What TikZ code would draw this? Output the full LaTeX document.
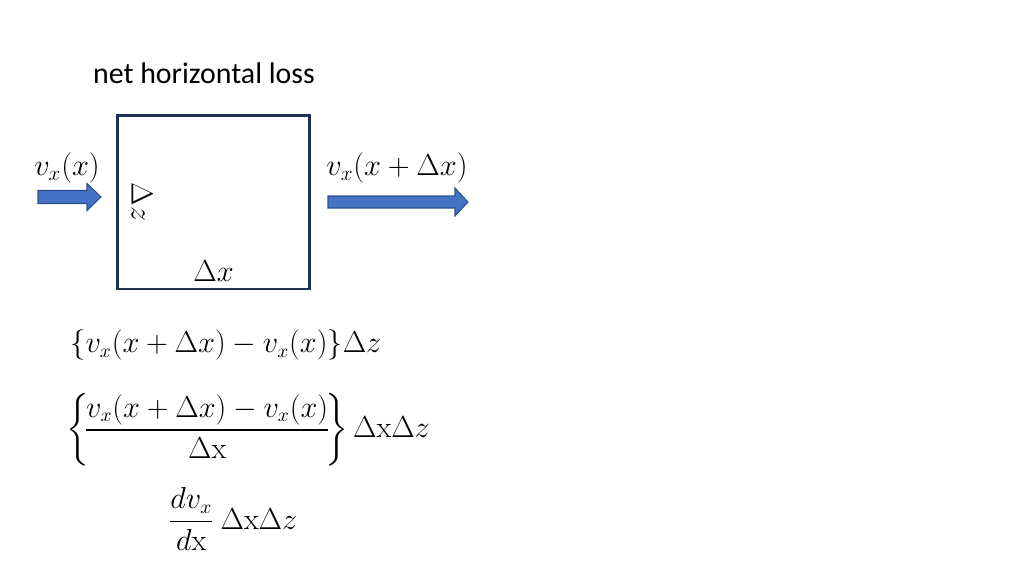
\documentclass[tikz,border=0pt]{standalone}
\usepackage{amsmath}
\usepackage[no-math]{fontspec}
\setmainfont{Carlito}
\usetikzlibrary{positioning}
\definecolor{boxnavy}{RGB}{32,48,82}
\definecolor{flowblue}{RGB}{68,114,196}
\definecolor{flowedge}{RGB}{47,82,143}
\begin{document}
\begin{tikzpicture}[x=0.02cm, y=-0.02cm,
    eq/.style={font=\fontsize{16}{19}\selectfont, inner sep=0pt},
    flow/.style={fill=flowblue, draw=flowedge, line width=0.6pt, line join=miter}]
    \useasboundingbox (0,0) rectangle (1024,576);
    \node[font=\fontsize{17}{20}\selectfont] (title) at (204,73) {net horizontal loss};
    \node[draw=boxnavy, line width=1.7pt, minimum width=3.86cm, minimum height=3.48cm] (cell) at (213.5,202) {};
    \node[eq, rotate=-90, anchor=south] (dz) at ([xshift=9pt]cell.west) {$\Delta z$};
    \node[eq, above=5pt of cell.south] (dx) {$\Delta x$};
    \node[eq, font=\fontsize{17}{20}\selectfont] (vin) at (67,168) {$v_x(x)$};
    \node[eq, font=\fontsize{17}{20}\selectfont] (vout) at (397,168) {$v_x(x+\Delta x)$};
    % inflow and outflow
    \draw[flow] (38,190.5) -- (87,190.5) -- (87,183.5) -- (101,197) -- (87,210.5) -- (87,203.5) -- (38,203.5) -- cycle;
    \draw[flow] (328,196) -- (455,196) -- (455,188) -- (468,202) -- (455,216) -- (455,208) -- (328,208) -- cycle;
    % balance
    \node[eq, anchor=west] (diff) at (70,345) {$\{v_x(x+\Delta x)-v_x(x)\}\Delta z$};
    \node[eq, anchor=west] (ratio) at (66,430) {$\left\{\!\dfrac{v_x(x+\Delta x)-v_x(x)}{\Delta\mathrm{x}}\!\right\}\Delta\mathrm{x}\Delta z$};
    \node[eq, anchor=west] (deriv) at (168,519) {$\dfrac{dv_x}{d\mathrm{x}}\ \Delta\mathrm{x}\Delta z$};
\end{tikzpicture}
\end{document}
